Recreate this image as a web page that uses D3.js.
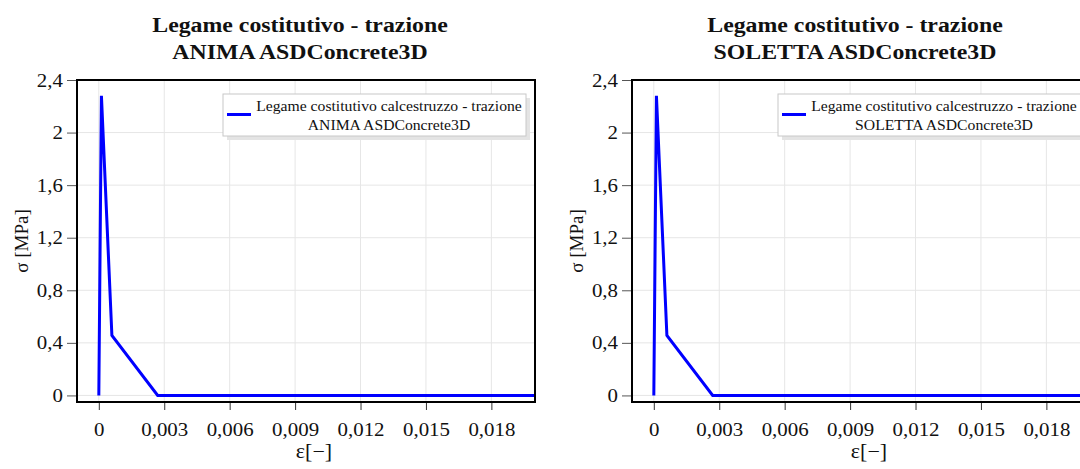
<!DOCTYPE html>
<html>
<head>
<meta charset="utf-8">
<script src="https://cdn.jsdelivr.net/npm/d3@7/dist/d3.min.js"></script>
<style>
  html, body { margin: 0; padding: 0; background: #fff; }
  svg { display: block; }
  text { font-family: "Liberation Serif", "DejaVu Serif", serif; fill: #111; }
</style>
</head>
<body>
<svg id="chart" width="1080" height="469"></svg>
<script>
// Tension constitutive law, strain [-] vs stress [MPa]
const animaStrain   = [0, 0.00012, 0.0006, 0.0027, 0.02];
const animaStress   = [0, 2.28, 0.456, 0, 0];
const solettaStrain = [0, 0.00012, 0.0006, 0.0027, 0.02];
const solettaStress = [0, 2.28, 0.456, 0, 0];

const xTickValues = [0, 0.003, 0.006, 0.009, 0.012, 0.015, 0.018];
const xTickLabels = ["0", "0,003", "0,006", "0,009", "0,012", "0,015", "0,018"];
const yTickValues = [0, 0.4, 0.8, 1.2, 1.6, 2, 2.4];
const yTickLabels = ["0", "0,4", "0,8", "1,2", "1,6", "2", "2,4"];

const panels = [
  { title: ["Legame costitutivo - trazione", "ANIMA ASDConcrete3D"],
    legend: ["Legame costitutivo calcestruzzo - trazione", "ANIMA ASDConcrete3D"],
    strain: animaStrain, stress: animaStress },
  { title: ["Legame costitutivo - trazione", "SOLETTA ASDConcrete3D"],
    legend: ["Legame costitutivo calcestruzzo - trazione", "SOLETTA ASDConcrete3D"],
    strain: solettaStrain, stress: solettaStress }
];

const svg = d3.select("#chart");
const panelWidth = 555;
const margin = { left: 77, top: 80 };
const plotW = 458, plotH = 322;

const x = d3.scaleLinear().domain([-0.001, 0.02]).range([0, plotW]);
const y = d3.scaleLinear().domain([-0.05, 2.4]).range([plotH, 0]);

// widen serif text horizontally (old-style face proportions)
function widen(sel, k) {
  sel.each(function () {
    const w = this.getComputedTextLength();
    d3.select(this).attr("textLength", w * k).attr("lengthAdjust", "spacingAndGlyphs");
  });
}

panels.forEach((p, i) => {
  const root = svg.append("g").attr("transform", `translate(${i * panelWidth},0)`);
  const g = root.append("g").attr("transform", `translate(${margin.left},${margin.top})`);

  // grid
  g.append("g").selectAll("line").data(xTickValues).join("line")
    .attr("x1", d => x(d)).attr("x2", d => x(d))
    .attr("y1", 0).attr("y2", plotH)
    .attr("stroke", "#e6e6e6").attr("stroke-width", 1);
  g.append("g").selectAll("line").data(yTickValues).join("line")
    .attr("x1", 0).attr("x2", plotW)
    .attr("y1", d => y(d)).attr("y2", d => y(d))
    .attr("stroke", "#e6e6e6").attr("stroke-width", 1);

  // axes
  const xAxis = d3.axisBottom(x).tickValues(xTickValues)
    .tickFormat((d, k) => xTickLabels[k]).tickSize(8).tickSizeOuter(0);
  const yAxis = d3.axisLeft(y).tickValues(yTickValues)
    .tickFormat((d, k) => yTickLabels[k]).tickSize(10).tickSizeOuter(0);

  const gx = g.append("g").attr("transform", `translate(0,${plotH})`).call(xAxis);
  gx.select(".domain").remove();
  gx.selectAll(".tick line").attr("stroke", "#333").attr("stroke-width", 1);
  gx.selectAll(".tick text").attr("font-size", 19).attr("dy", 0).attr("y", 34)
    .attr("font-family", "Liberation Serif").attr("fill", "#111");
  widen(gx.selectAll(".tick text"), 1.1);

  const gy = g.append("g").call(yAxis);
  gy.select(".domain").remove();
  gy.selectAll(".tick line").attr("stroke", "#555").attr("stroke-width", 1);
  gy.selectAll(".tick text").attr("font-size", 19).attr("x", -14).attr("dy", "0.32em")
    .attr("font-family", "Liberation Serif").attr("fill", "#111");
  widen(gy.selectAll(".tick text"), 1.1);

  // curve
  const pts = p.strain.map((e, k) => [e, p.stress[k]]);
  g.append("path").datum(pts)
    .attr("d", d3.line().x(d => x(d[0])).y(d => y(d[1])))
    .attr("fill", "none").attr("stroke", "#0000ff").attr("stroke-width", 3)
    .attr("stroke-linejoin", "miter");

  // frame
  g.append("rect").attr("x", 0).attr("y", 0).attr("width", plotW).attr("height", plotH)
    .attr("fill", "none").attr("stroke", "#000").attr("stroke-width", 2);

  // legend
  const lg = g.append("g").attr("transform", `translate(${146},${14})`);
  const lw = 303, lh = 42;
  lg.append("rect").attr("x", 4).attr("y", 4).attr("width", lw).attr("height", lh)
    .attr("fill", "#e4e4e4");
  lg.append("rect").attr("x", 0).attr("y", 0).attr("width", lw).attr("height", lh)
    .attr("fill", "#fff").attr("stroke", "#c8c8c8").attr("stroke-width", 1);
  lg.append("line").attr("x1", 4).attr("x2", 28).attr("y1", 20.5).attr("y2", 20.5)
    .attr("stroke", "#0000ff").attr("stroke-width", 3);
  const lt = lg.selectAll("text.leg").data(p.legend).join("text")
    .attr("class", "leg")
    .attr("x", 166).attr("y", (d, k) => 17 + k * 19).attr("text-anchor", "middle")
    .attr("font-size", 14).text(d => d);
  widen(lt, 1.12);

  // titles
  const tt = root.selectAll("text.title").data(p.title).join("text")
    .attr("class", "title")
    .attr("x", 300).attr("y", (d, k) => 32 + k * 27).attr("text-anchor", "middle")
    .attr("font-size", 20).attr("font-weight", "bold").text(d => d);
  widen(tt, 1.19);

  // axis labels
  const xl = root.append("text").attr("x", 314).attr("y", 458).attr("text-anchor", "middle")
    .attr("font-size", 20).text("ε[−]");
  widen(xl, 1.1);
  const yl = root.append("text")
    .attr("transform", "translate(28,241) rotate(-90)")
    .attr("text-anchor", "middle").attr("font-size", 19).text("σ [MPa]");
});
</script>
</body>
</html>
